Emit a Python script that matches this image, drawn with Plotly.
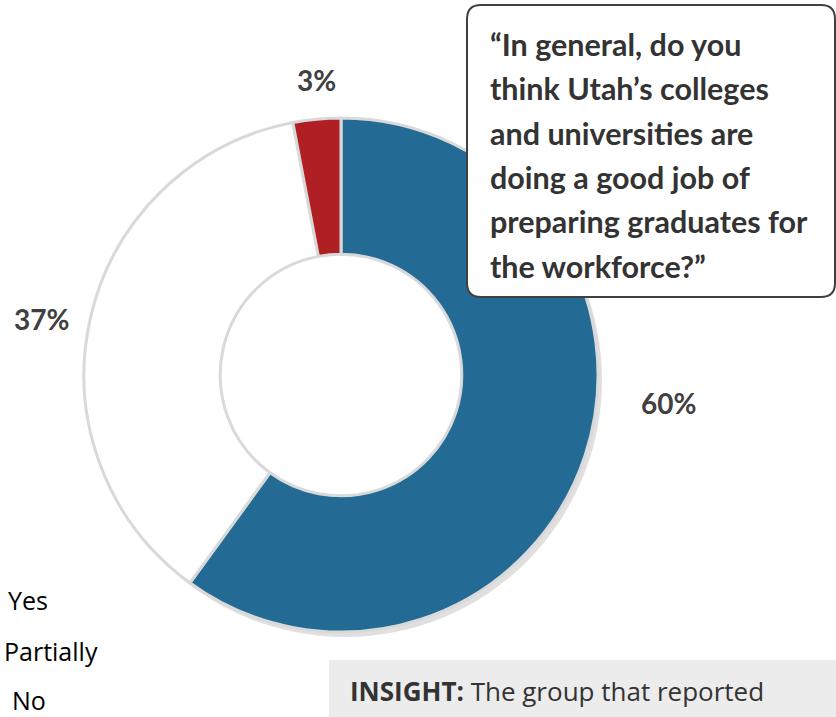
import plotly.graph_objects as go

W, H = 836, 717

# Survey responses
categories = ["Yes", "Partially", "No"]
shares = [60, 37, 3]
slice_colors = ["#236b94", "#ffffff", "#b01f24"]

question_lines = [
    "\u201cIn general, do you",
    "think Utah\u2019s colleges",
    "and universities are",
    "doing a good job of",
    "preparing graduates for",
    "the workforce?\u201d",
]
insight_label = "INSIGHT:"
insight_text = "The group that reported"


def px(x):
    return x / W


def py(y):
    return 1 - y / H


BOLD_FONT = "Lato"
BODY_FONT = "Open Sans"
TXT = "#404040"

# donut geometry in pixels
cx, cy, r = 341, 375, 257

fig = go.Figure()

# soft shadow along the outer rim
fig.add_trace(go.Pie(
    values=[1], labels=["shadow"], hole=0.9, sort=False,
    marker=dict(colors=["rgba(0,0,0,0.12)"], line=dict(width=0)),
    textinfo="none", hoverinfo="skip", showlegend=False,
    domain=dict(x=[px(cx - r + 4), px(cx + r + 4)], y=[py(cy + r + 5), py(cy - r + 5)]),
))

fig.add_trace(go.Pie(
    labels=categories, values=shares, hole=0.47, sort=False,
    direction="clockwise", rotation=0,
    marker=dict(colors=slice_colors, line=dict(color="#d9d9d9", width=3)),
    textinfo="none", showlegend=False,
    domain=dict(x=[px(cx - r), px(cx + r)], y=[py(cy + r), py(cy - r)]),
))

# percentage labels outside the ring
label_pos = [(668, 403), (41, 319), (316, 80)]
for v, (lx, ly) in zip(shares, label_pos):
    fig.add_annotation(x=px(lx), y=py(ly), xref="paper", yref="paper",
                       xanchor="center", yanchor="middle",
                       text=f"<b>{v}%</b>", showarrow=False,
                       font=dict(family=BOLD_FONT, size=28, color=TXT))

# category names
legend_pos = [(28, 600), (51, 651), (29, 700)]
for name, (lx, ly) in zip(categories, legend_pos):
    fig.add_annotation(x=px(lx), y=py(ly), xref="paper", yref="paper",
                       xanchor="center", yanchor="middle", borderpad=0,
                       text=name, showarrow=False,
                       font=dict(family=BODY_FONT, size=25, color="#000000"))

# question callout box
x0, y0, x1, y1, rr = 467, 5, 835, 297, 14
path = (f"M {px(x0 + rr)} {py(y0)} L {px(x1 - rr)} {py(y0)} "
        f"Q {px(x1)} {py(y0)} {px(x1)} {py(y0 + rr)} "
        f"L {px(x1)} {py(y1 - rr)} Q {px(x1)} {py(y1)} {px(x1 - rr)} {py(y1)} "
        f"L {px(x0 + rr)} {py(y1)} Q {px(x0)} {py(y1)} {px(x0)} {py(y1 - rr)} "
        f"L {px(x0)} {py(y0 + rr)} Q {px(x0)} {py(y0)} {px(x0 + rr)} {py(y0)} Z")
fig.add_shape(type="path", path=path, xref="paper", yref="paper",
              fillcolor="#ffffff", line=dict(color="#404040", width=2))

for i, line in enumerate(question_lines):
    fig.add_annotation(x=px(488), y=py(44 + i * 44.3), xref="paper", yref="paper",
                       xanchor="left", yanchor="middle",
                       text=f"<b>{line}</b>", showarrow=False,
                       font=dict(family=BOLD_FONT, size=30.5, color="#333333"))

# insight strip
fig.add_shape(type="rect", xref="paper", yref="paper",
              x0=px(329), x1=px(836), y0=py(717), y1=py(660),
              fillcolor="#ececec", line=dict(width=0))
fig.add_annotation(x=px(348), y=py(691), xref="paper", yref="paper",
                   xanchor="left", yanchor="middle", showarrow=False,
                   text=f"<b>{insight_label}</b> {insight_text}",
                   font=dict(family=BODY_FONT, size=26, color="#333333"))

fig.update_layout(
    width=W, height=H, margin=dict(l=0, r=0, t=0, b=0),
    paper_bgcolor="#ffffff", plot_bgcolor="#ffffff", showlegend=False,
)

fig.write_html("out.html")
